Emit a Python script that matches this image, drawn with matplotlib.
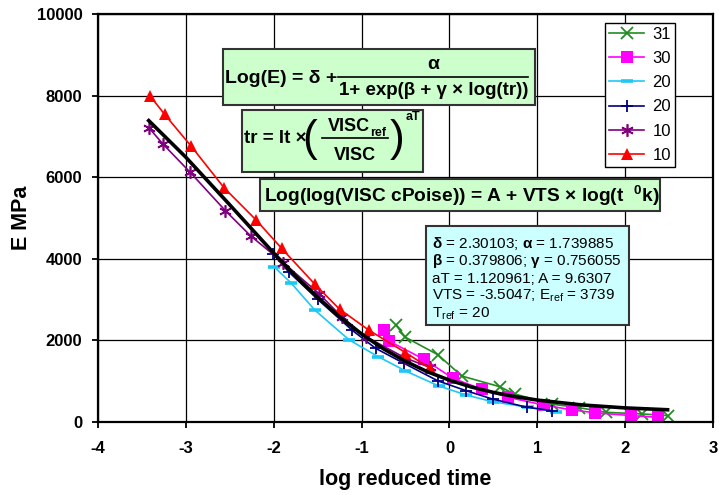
import matplotlib
matplotlib.use("Agg")
from matplotlib import pyplot as plt
from matplotlib.patches import Rectangle
from matplotlib.lines import Line2D

# measured data (log reduced time, E MPa)
x31 = [-0.61, -0.50, -0.13, 0.14, 0.57, 0.74, 1.17, 1.47, 1.78, 2.19, 2.48]
y31 = [2370, 2070, 1640, 1120, 860, 680, 430, 345, 230, 190, 150]

x30 = [-0.75, -0.69, -0.29, 0.04, 0.37, 0.66, 1.07, 1.39, 1.65, 2.06, 2.37]
y30 = [2250, 1980, 1530, 1065, 795, 600, 410, 290, 220, 150, 110]

x20a = [-1.99, -1.80, -1.53, -1.14, -0.81, -0.50, -0.12, 0.19, 0.49, 0.89, 1.21]
y20a = [3790, 3400, 2735, 2005, 1595, 1245, 875, 655, 490, 355, 245]

x20b = [-2.01, -1.83, -1.50, -1.11, -0.84, -0.52, -0.13, 0.19, 0.49, 0.88, 1.17]
y20b = [4125, 3680, 3005, 2250, 1800, 1435, 1000, 760, 555, 355, 270]

x10a = [-3.42, -3.26, -2.95, -2.55, -2.26, -1.89, -1.48, -1.22, -0.95, -0.50, -0.22]
y10a = [7215, 6815, 6120, 5180, 4555, 3900, 3135, 2560, 2085, 1560, 1330]

x10b = [-3.40, -3.24, -2.94, -2.56, -2.20, -1.91, -1.53, -1.25, -0.92, -0.50, -0.22]
y10b = [7980, 7540, 6765, 5730, 4950, 4255, 3370, 2760, 2250, 1695, 1310]

# master curve
x_fit = [-3.42, -3.0, -2.5, -2.0, -1.75, -1.5, -1.25, -1.0, -0.75, -0.5, -0.25,
         0.0, 0.25, 0.5, 0.75, 1.0, 1.5, 2.0, 2.48]
y_fit = [7386, 6492, 5323, 4139, 3574, 3051, 2574, 2151, 1787, 1480, 1225,
         1018, 851, 718, 613, 530, 412, 338, 293]

W, H = 719, 495

plt.rcParams["font.family"] = ["Liberation Sans", "DejaVu Sans"]
plt.rcParams["axes.unicode_minus"] = False
plt.rcParams["mathtext.fontset"] = "custom"
plt.rcParams["mathtext.rm"] = "Liberation Sans:bold"
plt.rcParams["mathtext.it"] = "Liberation Sans:bold"
plt.rcParams["mathtext.bf"] = "Liberation Sans:bold"
plt.rcParams["mathtext.sf"] = "Liberation Sans"


def fx(px):
    return px / W


def fy(py):
    return 1 - py / H


fig = plt.figure(figsize=(W / 100, H / 100), dpi=100)
ax = fig.add_axes([fx(97.7), fy(421.7), (713.3 - 97.7) / W, (421.7 - 14) / H])

series = [
    (x31, y31, "31", dict(color="#228B22", marker="x", ms=8, mew=1.3)),
    (x30, y30, "30", dict(color="#FF00FF", marker="s", ms=8, mew=0)),
    (x20a, y20a, "20", dict(color="#1EC8F5", marker="_", ms=9, mew=2.6)),
    (x20b, y20b, "20", dict(color="#000080", marker="+", ms=9, mew=1.3)),
    (x10a, y10a, "10", dict(color="#800080", marker=(6, 2, 0), ms=9, mew=1.2)),
    (x10b, y10b, "10", dict(color="#FF0000", marker="^", ms=8.5, mew=0)),
]
handles = []
for xs, ys, lab, st in series:
    h, = ax.plot(xs, ys, lw=1.2, label=lab, **st)
    handles.append(h)

ax.plot(x_fit, y_fit, color="black", lw=2.6, zorder=3)

ax.set_xlim(-4, 3)
ax.set_ylim(0, 10000)
ax.set_xticks(range(-4, 4))
ax.set_yticks(range(0, 10001, 2000))
ax.grid(True, color="black", lw=0.9)
ax.set_axisbelow(True)
for s in ax.spines.values():
    s.set_linewidth(1.6)
ax.tick_params(direction="out", length=4, width=1.3, labelsize=12)
ax.tick_params(axis="x", pad=10)
ax.tick_params(axis="y", pad=7)
for t in ax.get_xticklabels() + ax.get_yticklabels():
    t.set_fontweight("bold")

fig.text(fx(405.5), fy(485), "log reduced time", ha="center", va="baseline",
         fontsize=15.5, fontweight="bold")
fig.text(fx(21.5), fy(218), "E MPa", ha="center", va="center", rotation=90,
         fontsize=15.5, fontweight="bold")

leg = ax.legend(handles=handles, loc="upper left",
                bbox_to_anchor=(fx(605), fy(22.7)), bbox_transform=fig.transFigure,
                fancybox=False, edgecolor="black", framealpha=1, fontsize=12,
                numpoints=1, handlelength=2.1, labelspacing=0.55, borderpad=0.25,
                handletextpad=0.5, borderaxespad=0)
leg.get_frame().set_linewidth(1.0)


def box(x0, y0, x1, y1, color):
    r = Rectangle((fx(x0), fy(y1)), (x1 - x0) / W, (y1 - y0) / H,
                  transform=fig.transFigure, facecolor=color,
                  edgecolor="#333333", lw=1.5, zorder=5)
    fig.add_artist(r)


def txt(px, py, s, size=14, weight="bold", **kw):
    kw.setdefault("ha", "center")
    kw.setdefault("va", "center")
    fig.text(fx(px), fy(py), s, fontsize=size, fontweight=weight, zorder=6, **kw)


def bar(x0, x1, py):
    fig.add_artist(Line2D([fx(x0), fx(x1)], [fy(py), fy(py)], color="black",
                          lw=1.2, transform=fig.transFigure, zorder=6))


# box 1: Log(E) = delta + alpha / (1 + exp(beta + gamma x log(tr)))
box(222.7, 49, 535, 105, "#CCFFCC")
txt(225, 78.3, "Log(E) = δ +", ha="left")
bar(338.3, 528.3, 76.7)
txt(433.3, 64.5, "α")
txt(433.3, 90.5, "1+ exp(β + γ × log(tr))", size=13.5)

# box 2: tr = lt x (VISCref / VISC)^aT
box(241.7, 110, 422.7, 171.7, "#CCFFCC")
txt(243.5, 138.3, "tr = lt ×", size=13.5, ha="left")
txt(310, 140, "(", size=32, weight="normal")
txt(397, 140, ")", size=32, weight="normal")
txt(370, 126.7, "VISC", size=13, ha="right")
txt(370.5, 132.5, "ref", size=9, ha="left")
bar(322, 388, 138.3)
txt(355, 155, "VISC", size=13)
txt(413, 116.7, "aT", size=9)

# box 3: viscosity-temperature relation
box(259.7, 179, 659.7, 211, "#CCFFCC")
txt(461.3, 195.5, r"Log(log(VISC cPoise)) = A + VTS × log(t  $^{0}$k)", size=13.8)

# box 4: fitted coefficients
box(425.7, 226, 629, 325.3, "#CCFFFF")
info = [
    r"$\delta$ = 2.30103; $\alpha$ = 1.739885",
    r"$\beta$ = 0.379806; $\gamma$ = 0.756055",
    "aT = 1.120961; A = 9.6307",
    r"VTS = -3.5047; E$_{\mathsf{ref}}$ = 3739",
    r"T$_{\mathsf{ref}}$ = 20",
]
for i, line in enumerate(info):
    txt(432.3, 248 + i * 17.3, line, size=11, weight="normal", ha="left", va="baseline")

fig.savefig("out.png", dpi=100)
